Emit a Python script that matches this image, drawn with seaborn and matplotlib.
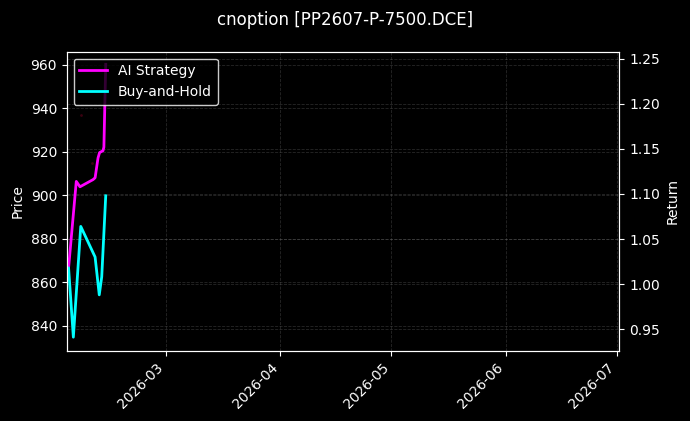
import pandas as pd
import numpy as np
import matplotlib
matplotlib.use('Agg')
import matplotlib.pyplot as plt
import matplotlib.dates as mdates
import seaborn as sns

# 데이터
ai_time = ['2026-02-02 06:00', '2026-02-02 18:00', '2026-02-04 20:00', '2026-02-05 20:00',
           '2026-02-09 09:00', '2026-02-09 22:00', '2026-02-10 17:00', '2026-02-11 03:00',
           '2026-02-12 01:00', '2026-02-12 07:00', '2026-02-12 19:00']
ai_ret = [1.005, 1.018, 1.114, 1.108, 1.116, 1.118, 1.140, 1.146, 1.148, 1.152, 1.244]

bh_time = ['2026-02-02 06:00', '2026-02-02 18:00', '2026-02-04 01:00', '2026-02-06 01:00',
           '2026-02-09 22:00', '2026-02-11 01:00', '2026-02-11 17:00', '2026-02-12 19:00']
bh_ret = [1.005, 1.018, 0.941, 1.064, 1.030, 0.988, 1.008, 1.098]

price_time = ['2026-02-06 01:00', '2026-02-09 02:00']
price_val = [937, 915]

ai = pd.DataFrame({'time': pd.to_datetime(ai_time), 'ret': ai_ret})
bh = pd.DataFrame({'time': pd.to_datetime(bh_time), 'ret': bh_ret})
px = pd.DataFrame({'time': pd.to_datetime(price_time), 'price': price_val})

plt.style.use('dark_background')

fig = plt.figure(figsize=(6.9, 4.21), dpi=100)
ax1 = fig.add_axes([0.0967, 0.167, 0.801, 0.7102])
ax2 = ax1.twinx()

# 가격 (거의 안 보이는 점)
sns.scatterplot(data=px, x='time', y='price', ax=ax1, color='#3a0010', s=4,
                linewidth=0, legend=False)

sns.lineplot(data=ai, x='time', y='ret', ax=ax2, color='#ff00ff', linewidth=2,
             label='AI Strategy')
sns.lineplot(data=bh, x='time', y='ret', ax=ax2, color='#00ffff', linewidth=2,
             label='Buy-and-Hold')

ax1.set_xlim(pd.Timestamp('2026-02-02 06:00'), pd.Timestamp('2026-07-01 14:00'))
ax1.set_ylim(828.5, 966.1)
ax2.set_ylim(0.926, 1.258)

ax1.xaxis.set_major_locator(mdates.MonthLocator())
ax1.xaxis.set_major_formatter(mdates.DateFormatter('%Y-%m'))
for lab in ax1.get_xticklabels():
    lab.set_rotation(45)
    lab.set_ha('right')

ax1.grid(True, linestyle='--', color='gray', alpha=0.3, linewidth=0.6)
ax2.grid(True, linestyle='--', color='gray', alpha=0.3, linewidth=0.6)

ax1.set_xlabel('')
ax1.set_ylabel('Price')
ax2.set_xlabel('')
ax2.set_ylabel('Return')

leg = ax2.legend(loc='upper left', facecolor='black', edgecolor='white', framealpha=0.8)

fig.suptitle('cnoption [PP2607-P-7500.DCE]', fontsize=12, y=0.975)

plt.savefig('out.png', dpi=100)
